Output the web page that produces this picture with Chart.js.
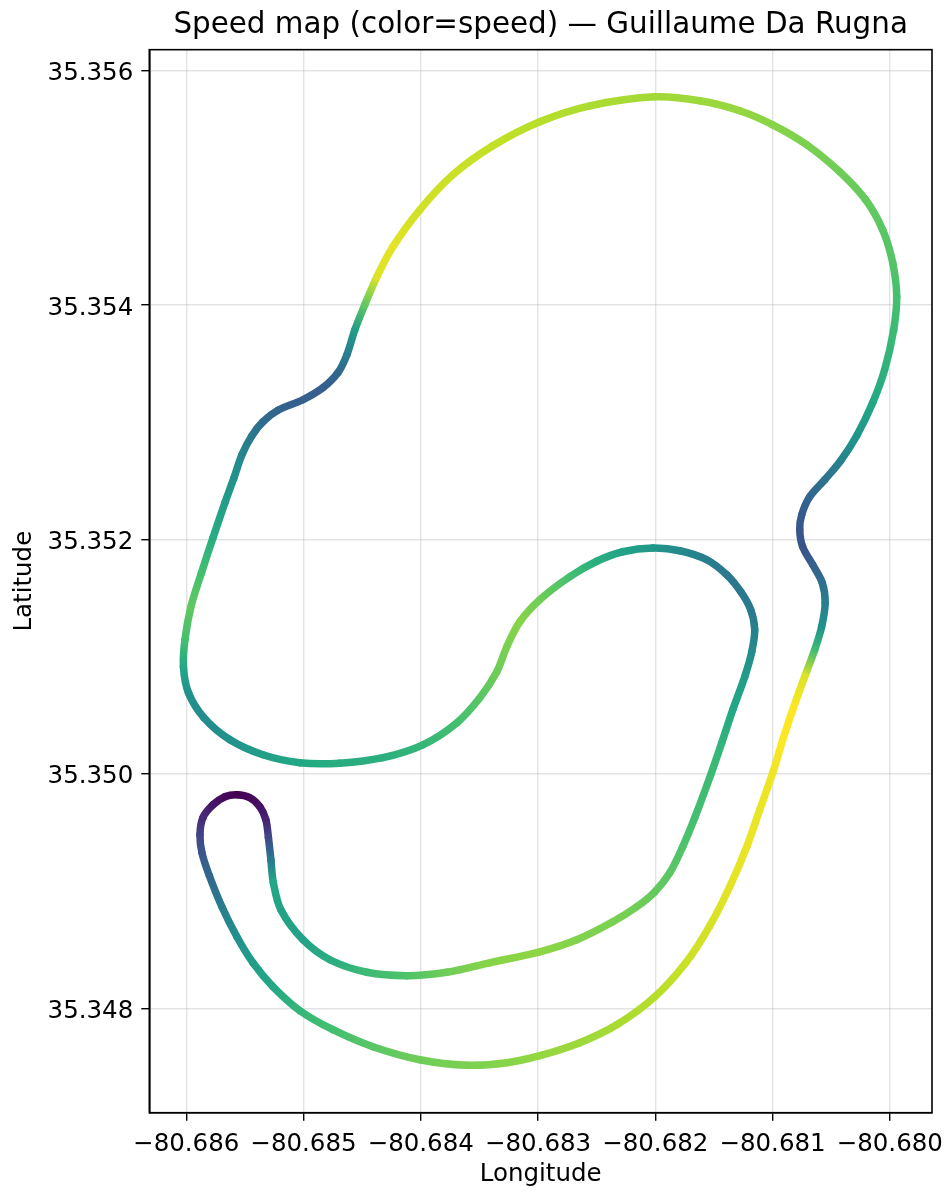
<!DOCTYPE html>
<html lang="en">
<head>
    <meta charset="UTF-8">
    <title>Speed map</title>
    <style>
        html, body { margin: 0; padding: 0; background: #fff; }
        canvas { display: block; filter: blur(0.5px); }
    </style>
    <script src="https://cdn.jsdelivr.net/npm/chart.js@4"></script>
</head>
<body>
    <canvas id="speedMap" width="948" height="1194"></canvas>

    <script>
        const longitude = [
            -80.680913, -80.680998, -80.681109, -80.681220, -80.681365, -80.681535, -80.681740, -80.682004,
            -80.682328, -80.682644, -80.682985, -80.683266, -80.683607, -80.684008, -80.684408, -80.684749,
            -80.685031, -80.685261, -80.685431, -80.685568, -80.685696, -80.685806, -80.685866, -80.685883,
            -80.685858, -80.685772, -80.685670, -80.685568, -80.685457, -80.685372, -80.685321, -80.685299,
            -80.685278, -80.685257, -80.685193, -80.685005, -80.684775, -80.684460, -80.684119, -80.683778,
            -80.683411, -80.682985, -80.682669, -80.682362, -80.682158, -80.682004, -80.681876, -80.681766,
            -80.681663, -80.681527, -80.681433, -80.681339, -80.681237, -80.681177, -80.681152, -80.681186,
            -80.681271, -80.681391, -80.681561, -80.681791, -80.682021, -80.682277, -80.682499, -80.682729,
            -80.682985, -80.683155, -80.683266, -80.683351, -80.683496, -80.683692, -80.683982, -80.684323,
            -80.684690, -80.685031, -80.685346, -80.685627, -80.685849, -80.685981, -80.686024, -80.686011,
            -80.685960, -80.685870, -80.685772, -80.685670, -80.685593, -80.685525, -80.685440, -80.685346,
            -80.685218, -80.685005, -80.684835, -80.684707, -80.684630, -80.684562, -80.684477, -80.684374,
            -80.684238, -80.684008, -80.683726, -80.683385, -80.682985, -80.682558, -80.682004, -80.681621,
            -80.681280, -80.680998, -80.680709, -80.680427, -80.680206, -80.680061, -80.679975, -80.679941,
            -80.679967, -80.680044, -80.680146, -80.680282, -80.680419, -80.680555, -80.680683, -80.680751,
            -80.680768, -80.680743, -80.680657, -80.680576, -80.680551, -80.680581, -80.680640, -80.680726,
            -80.680828, -80.680913
        ];
        const latitude = [
            35.350292, 35.350011, 35.349695, 35.349379, 35.349038, 35.348705, 35.348389, 35.348099,
            35.347860, 35.347707, 35.347596, 35.347536, 35.347515, 35.347562, 35.347673, 35.347818,
            35.347980, 35.348185, 35.348389, 35.348611, 35.348867, 35.349140, 35.349328, 35.349482,
            35.349627, 35.349737, 35.349806, 35.349823, 35.349797, 35.349720, 35.349610, 35.349456,
            35.349268, 35.349072, 35.348842, 35.348586, 35.348415, 35.348308, 35.348279, 35.348308,
            35.348389, 35.348483, 35.348586, 35.348739, 35.348867, 35.348995, 35.349157, 35.349379,
            35.349627, 35.349993, 35.350266, 35.350548, 35.350830, 35.351043, 35.351231, 35.351401,
            35.351555, 35.351700, 35.351828, 35.351905, 35.351928, 35.351896, 35.351815, 35.351683,
            35.351487, 35.351299, 35.351086, 35.350872, 35.350650, 35.350437, 35.350249, 35.350139,
            35.350092, 35.350096, 35.350164, 35.350292, 35.350480, 35.350693, 35.350915, 35.351145,
            35.351427, 35.351717, 35.352016, 35.352314, 35.352527, 35.352724, 35.352886, 35.353005,
            35.353103, 35.353193, 35.353295, 35.353423, 35.353577, 35.353790, 35.354004, 35.354242,
            35.354498, 35.354814, 35.355113, 35.355360, 35.355565, 35.355701, 35.355778, 35.355744,
            35.355659, 35.355539, 35.355369, 35.355138, 35.354899, 35.354643, 35.354362, 35.354072,
            35.353790, 35.353449, 35.353167, 35.352886, 35.352673, 35.352510, 35.352365, 35.352212,
            35.352084, 35.351939, 35.351785, 35.351632, 35.351461, 35.351256, 35.351060, 35.350830,
            35.350548, 35.350292
        ];
        const speed = [
            1.00, 0.98, 0.97, 0.97, 0.96, 0.94, 0.92, 0.89,
            0.87, 0.85, 0.84, 0.82, 0.80, 0.78, 0.74, 0.70,
            0.66, 0.60, 0.55, 0.50, 0.42, 0.33, 0.27, 0.20,
            0.12, 0.06, 0.02, 0.00, 0.02, 0.05, 0.09, 0.22,
            0.40, 0.60, 0.58, 0.58, 0.62, 0.68, 0.72, 0.78,
            0.82, 0.83, 0.81, 0.80, 0.78, 0.76, 0.74, 0.72,
            0.70, 0.68, 0.65, 0.60, 0.55, 0.48, 0.43, 0.41,
            0.40, 0.40, 0.42, 0.47, 0.52, 0.58, 0.62, 0.70,
            0.78, 0.82, 0.80, 0.78, 0.74, 0.70, 0.66, 0.63,
            0.62, 0.60, 0.56, 0.50, 0.48, 0.50, 0.60, 0.70,
            0.75, 0.70, 0.62, 0.55, 0.50, 0.46, 0.40, 0.35,
            0.32, 0.30, 0.30, 0.33, 0.42, 0.55, 0.75, 0.95,
            0.96, 0.93, 0.92, 0.91, 0.89, 0.875, 0.86, 0.85,
            0.84, 0.82, 0.80, 0.78, 0.76, 0.74, 0.73, 0.70,
            0.68, 0.64, 0.60, 0.52, 0.44, 0.38, 0.33, 0.29,
            0.27, 0.26, 0.30, 0.36, 0.42, 0.50, 0.68, 0.95,
            1.00, 1.00
        ];
        const xTicks = [-80.686, -80.685, -80.684, -80.683, -80.682, -80.681, -80.680];
        const yTicks = [35.348, 35.350, 35.352, 35.354, 35.356];
        const viridis = [
            [68, 1, 84], [72, 36, 117], [65, 68, 135], [53, 95, 141], [42, 120, 142], [33, 145, 140],
            [34, 168, 132], [68, 191, 112], [122, 209, 81], [189, 223, 38], [253, 231, 37]
        ];

        function speedColor(v) {
            const pos = v * (viridis.length - 1);
            const i = Math.min(Math.floor(pos), viridis.length - 2);
            const t = pos - i;
            const c = viridis[i].map((a, k) => Math.round(a + (viridis[i + 1][k] - a) * t));
            return `rgb(${c[0]}, ${c[1]}, ${c[2]})`;
        }

        // colour fades along each piece of the line
        function segmentColor(ctx) {
            const g = ctx.chart.ctx.createLinearGradient(ctx.p0.x, ctx.p0.y, ctx.p1.x, ctx.p1.y);
            g.addColorStop(0, speedColor(speed[ctx.p0DataIndex]));
            g.addColorStop(1, speedColor(speed[ctx.p1DataIndex]));
            return g;
        }

        const framePlugin = {
            id: 'frame',
            afterDatasetsDraw(chart) {
                const a = chart.chartArea;
                const c = chart.ctx;
                c.save();
                c.strokeStyle = '#000';
                c.lineWidth = 1.6;
                c.strokeRect(a.left, a.top, a.right - a.left, a.bottom - a.top);
                c.restore();
            }
        };

        Chart.defaults.font.family = '"DejaVu Sans"';
        Chart.defaults.color = '#000';

        new Chart(document.getElementById('speedMap').getContext('2d'), {
            type: 'line',
            data: {
                datasets: [{
                    data: longitude.map((x, i) => ({ x: x, y: latitude[i] })),
                    tension: 0.33,
                    borderWidth: 7.5,
                    borderCapStyle: 'round',
                    borderColor: '#21918c',
                    pointRadius: 0,
                    segment: { borderColor: segmentColor }
                }]
            },
            options: {
                responsive: false,
                animation: false,
                layout: { padding: { right: 16 } },
                plugins: {
                    legend: { display: false },
                    tooltip: { enabled: false },
                    title: {
                        display: true,
                        fullSize: false,
                        text: 'Speed map (color=speed) — Guillaume Da Rugna',
                        color: '#000',
                        font: { size: 29.4, weight: 'normal' },
                        padding: { top: 7.5, bottom: 6.9 }
                    }
                },
                scales: {
                    x: {
                        type: 'linear',
                        min: -80.686315,
                        max: -80.67964,
                        afterBuildTicks: scale => { scale.ticks = xTicks.map(v => ({ value: v })); },
                        afterFit: scale => { scale.height = 81.3; scale.paddingRight = 0; scale.paddingLeft = 0; },
                        ticks: {
                            autoSkip: false,
                            maxRotation: 0,
                            font: { size: 24.5 },
                            padding: 9,
                            callback: v => '\u2212' + Math.abs(v).toFixed(3)
                        },
                        grid: { color: 'rgba(176,176,176,0.35)', tickColor: '#000', tickLength: 8, lineWidth: 1.4, tickWidth: 1.4 },
                        border: { color: '#000', width: 1.6 },
                        title: { display: true, text: 'Longitude', font: { size: 24.5 }, padding: { top: 0, bottom: 5 } }
                    },
                    y: {
                        type: 'linear',
                        min: 35.34711,
                        max: 35.35618,
                        afterBuildTicks: scale => { scale.ticks = yTicks.map(v => ({ value: v })); },
                        afterFit: scale => { scale.width = 149.3; scale.paddingTop = 0; scale.paddingBottom = 0; },
                        ticks: {
                            autoSkip: false,
                            font: { size: 24.5 },
                            padding: 8,
                            labelOffset: 3,
                            callback: v => v.toFixed(3)
                        },
                        grid: { color: 'rgba(176,176,176,0.35)', tickColor: '#000', tickLength: 8, lineWidth: 1.4, tickWidth: 1.4 },
                        border: { color: '#000', width: 1.6 },
                        title: { display: true, text: 'Latitude', font: { size: 24.5 }, padding: { top: 10, bottom: 0 } }
                    }
                }
            },
            plugins: [framePlugin]
        });
    </script>
</body>
</html>
